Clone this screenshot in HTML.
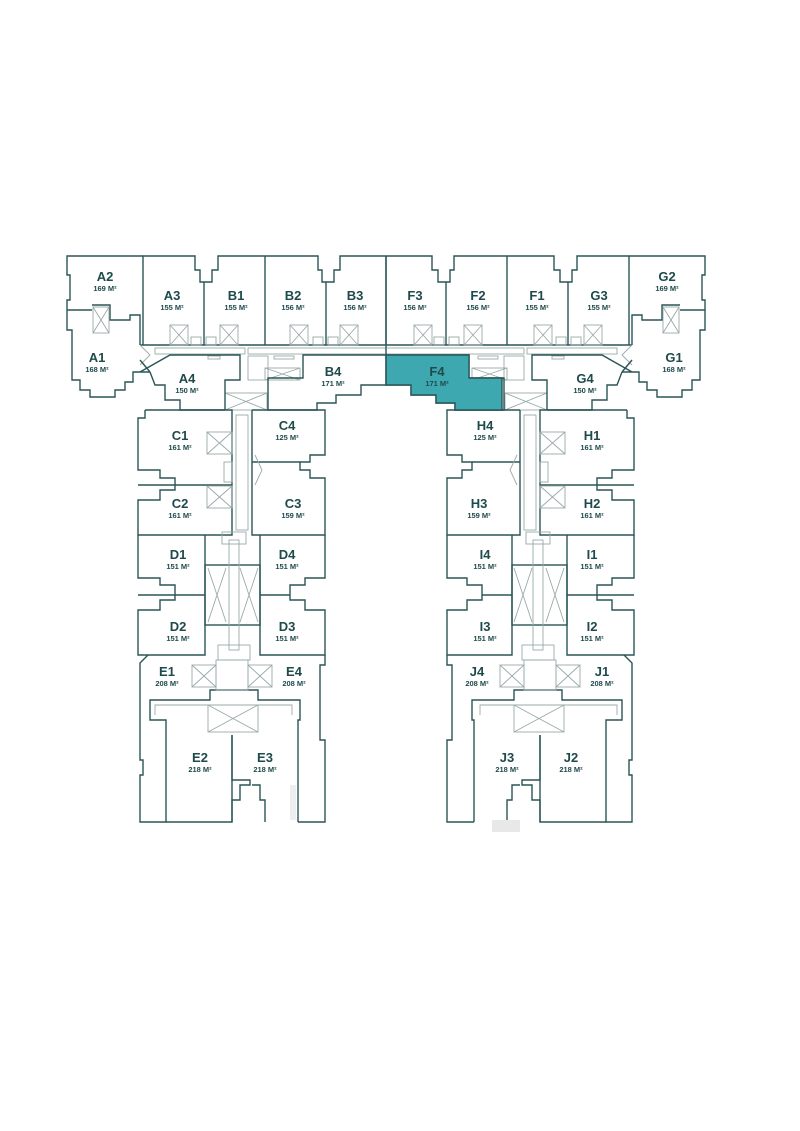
<!DOCTYPE html>
<html><head><meta charset="utf-8"><style>
html,body{margin:0;padding:0;background:#fff;width:800px;height:1131px;overflow:hidden}
svg{display:block}
text{font-family:"Liberation Sans",sans-serif;fill:#1f4a4c;text-anchor:middle;font-weight:bold}
.n{font-size:13px}.a{font-size:7.5px}
.l{fill:none;stroke:#2a5557;stroke-width:1.4;stroke-linejoin:miter}
.t{fill:none;stroke:#9aa9aa;stroke-width:0.9}
</style></head><body>
<svg width="800" height="1131" viewBox="0 0 800 1131">
<defs>
<g id="half">
<polyline class="l" points="143,345 143,256 195,256 195,270 200,270 200,282 212,282 212,270 218,270 218,256 318,256 318,270 322,270 322,282 334,282 334,270 340,270 340,256 386,256"/>
<polyline class="l" points="143,256 67,256 67,275 70,275 70,300 67,300 67,330 72,330 72,380 80,380 80,390 90,390 90,397 115,397 115,390 125,390 125,382 133,382 133,372 150,372"/>
<polyline class="l" points="67,310 92,310"/>
<polyline class="l" points="92,305 110,305 110,320 130,320 130,315 140,315 140,345"/>
<rect class="t" x="93" y="307" width="16" height="26"/><path class="t" d="M93,307 L109,333 M109,307 L93,333"/>
<line class="l" x1="204" y1="282" x2="204" y2="345"/>
<line class="l" x1="265" y1="256" x2="265" y2="345"/>
<line class="l" x1="326" y1="282" x2="326" y2="345"/>
<line class="l" x1="386" y1="256" x2="386" y2="345"/>
<line class="l" x1="140" y1="345" x2="386" y2="345"/>
<g class="t">
<rect x="170" y="325" width="18" height="20"/><path d="M170,325 L188,345 M188,325 L170,345"/>
<rect x="220" y="325" width="18" height="20"/><path d="M220,325 L238,345 M238,325 L220,345"/>
<rect x="290" y="325" width="18" height="20"/><path d="M290,325 L308,345 M308,325 L290,345"/>
<rect x="340" y="325" width="18" height="20"/><path d="M340,325 L358,345 M358,325 L340,345"/>
<rect x="191" y="337" width="10" height="8"/><rect x="206" y="337" width="10" height="8"/>
<rect x="313" y="337" width="10" height="8"/><rect x="328" y="337" width="10" height="8"/>
<rect x="155" y="348" width="90" height="6"/><rect x="248" y="348" width="138" height="6"/>
<rect x="208" y="356" width="12" height="3"/><rect x="274" y="356" width="20" height="3"/>
<rect x="248" y="356" width="20" height="24"/>
<rect x="265" y="368" width="35" height="12"/><path d="M265,368 L300,380 M300,368 L265,380"/>
<rect x="225" y="393" width="42" height="17"/><path d="M225,393 L267,410 M267,393 L225,410"/>
<path d="M140,345 L150,355 L140,365"/>
</g>
<polyline class="l" points="140,372 170,355 240,355 240,380 225,380 225,410"/>
<polyline class="l" points="150,372 155,385 165,385 165,400 180,400 180,410 225,410"/>
<line class="l" x1="140" y1="360" x2="150" y2="372"/>
<polyline class="l" points="386,355 303,355 303,378 268,378 268,410 317,410 317,403 336,403 336,395 361,395 361,385 386,385"/>
<polyline class="l" points="145,410 232,410 232,535 138,535 138,500 160,500 160,490 175,490 175,478 160,478 160,470 138,470 138,418 145,418 145,410"/>
<polyline class="l" points="138,485 232,485"/>
<polyline class="l" points="252,410 325,410 325,455 310,455 310,462 300,462 300,470 310,470 310,478 325,478 325,535 252,535 252,410"/>
<line class="l" x1="252" y1="462" x2="300" y2="462"/>
<g class="t">
<rect x="207" y="432" width="25" height="22"/><path d="M207,432 L232,454 M232,432 L207,454"/>
<rect x="207" y="486" width="25" height="22"/><path d="M207,486 L232,508 M232,486 L207,508"/>
<rect x="236" y="415" width="12" height="115"/><rect x="224" y="462" width="8" height="20"/>
<path d="M255,455 L262,470 L255,485"/>
</g>
<polyline class="l" points="138,535 138,578 160,578 160,585 175,585 175,600 160,600 160,610 138,610 138,655 205,655 205,535"/>
<line class="l" x1="138" y1="595" x2="205" y2="595"/>
<polyline class="l" points="260,535 260,655 325,655 325,610 305,610 305,600 290,600 290,585 305,585 305,578 325,578 325,535"/>
<line class="l" x1="260" y1="595" x2="290" y2="595"/>
<rect class="l" x="205" y="565" width="55" height="60"/>
<g class="t">
<rect x="229" y="540" width="10" height="110"/><rect x="222" y="532" width="24" height="12"/>
<path d="M208,568 L226,622 M226,568 L208,622 M240,568 L258,622 M258,568 L240,622"/>
<rect x="218" y="645" width="32" height="15"/>
</g>
<polyline class="l" points="148,655 140,663 140,760 143,760 143,775 140,775 140,822 166,822 166,720 150,720 150,700 210,700 210,690 258,690 258,700 300,700 300,720 298,720 298,822"/>
<polyline class="l" points="325,655 325,665 320,665 320,740 325,740 325,822 298,822"/>
<polyline class="l" points="166,822 232,822 232,800 240,800 240,785 250,785 250,780 232,780 232,735"/>
<line class="l" x1="232" y1="735" x2="232" y2="822"/>
<polyline class="l" points="252,785 260,785 260,800 265,800 265,822"/>
<g class="t">
<rect x="192" y="665" width="24" height="22"/><path d="M192,665 L216,687 M216,665 L192,687"/>
<rect x="248" y="665" width="24" height="22"/><path d="M248,665 L272,687 M272,665 L248,687"/>
<rect x="216" y="660" width="32" height="30"/>
<rect x="208" y="705" width="50" height="27"/><path d="M208,705 L258,732 M258,705 L208,732"/>
<polyline points="155,715 155,705 292,705 292,715"/>
</g>
</g>
</defs>
<use href="#half"/>
<g transform="translate(772,0) scale(-1,1)"><use href="#half"/></g>
<polygon points="386,355 469,355 469,378 502,378 502,410 455,410 455,403 436,403 436,395 411,395 411,385 386,385" fill="#3ea8b1" stroke="#2a5557" stroke-width="1.4"/>
<line class="l" x1="386" y1="345" x2="386" y2="385"/>

<g>
<text class="n" x="105" y="281">A2</text><text class="a" x="105" y="291">169 M²</text>
<text class="n" x="172" y="300">A3</text><text class="a" x="172" y="310">155 M²</text>
<text class="n" x="236" y="300">B1</text><text class="a" x="236" y="310">155 M²</text>
<text class="n" x="293" y="300">B2</text><text class="a" x="293" y="310">156 M²</text>
<text class="n" x="355" y="300">B3</text><text class="a" x="355" y="310">156 M²</text>
<text class="n" x="415" y="300">F3</text><text class="a" x="415" y="310">156 M²</text>
<text class="n" x="478" y="300">F2</text><text class="a" x="478" y="310">156 M²</text>
<text class="n" x="537" y="300">F1</text><text class="a" x="537" y="310">155 M²</text>
<text class="n" x="599" y="300">G3</text><text class="a" x="599" y="310">155 M²</text>
<text class="n" x="667" y="281">G2</text><text class="a" x="667" y="291">169 M²</text>
<text class="n" x="97" y="362">A1</text><text class="a" x="97" y="372">168 M²</text>
<text class="n" x="674" y="362">G1</text><text class="a" x="674" y="372">168 M²</text>
<text class="n" x="187" y="383">A4</text><text class="a" x="187" y="393">150 M²</text>
<text class="n" x="333" y="376">B4</text><text class="a" x="333" y="386">171 M²</text>
<text class="n" x="437" y="376">F4</text><text class="a" x="437" y="386">171 M²</text>
<text class="n" x="585" y="383">G4</text><text class="a" x="585" y="393">150 M²</text>
<text class="n" x="180" y="440">C1</text><text class="a" x="180" y="450">161 M²</text>
<text class="n" x="287" y="430">C4</text><text class="a" x="287" y="440">125 M²</text>
<text class="n" x="485" y="430">H4</text><text class="a" x="485" y="440">125 M²</text>
<text class="n" x="592" y="440">H1</text><text class="a" x="592" y="450">161 M²</text>
<text class="n" x="180" y="508">C2</text><text class="a" x="180" y="518">161 M²</text>
<text class="n" x="293" y="508">C3</text><text class="a" x="293" y="518">159 M²</text>
<text class="n" x="479" y="508">H3</text><text class="a" x="479" y="518">159 M²</text>
<text class="n" x="592" y="508">H2</text><text class="a" x="592" y="518">161 M²</text>
<text class="n" x="178" y="559">D1</text><text class="a" x="178" y="569">151 M²</text>
<text class="n" x="287" y="559">D4</text><text class="a" x="287" y="569">151 M²</text>
<text class="n" x="485" y="559">I4</text><text class="a" x="485" y="569">151 M²</text>
<text class="n" x="592" y="559">I1</text><text class="a" x="592" y="569">151 M²</text>
<text class="n" x="178" y="631">D2</text><text class="a" x="178" y="641">151 M²</text>
<text class="n" x="287" y="631">D3</text><text class="a" x="287" y="641">151 M²</text>
<text class="n" x="485" y="631">I3</text><text class="a" x="485" y="641">151 M²</text>
<text class="n" x="592" y="631">I2</text><text class="a" x="592" y="641">151 M²</text>
<text class="n" x="167" y="676">E1</text><text class="a" x="167" y="686">208 M²</text>
<text class="n" x="294" y="676">E4</text><text class="a" x="294" y="686">208 M²</text>
<text class="n" x="477" y="676">J4</text><text class="a" x="477" y="686">208 M²</text>
<text class="n" x="602" y="676">J1</text><text class="a" x="602" y="686">208 M²</text>
<text class="n" x="200" y="762">E2</text><text class="a" x="200" y="772">218 M²</text>
<text class="n" x="265" y="762">E3</text><text class="a" x="265" y="772">218 M²</text>
<text class="n" x="507" y="762">J3</text><text class="a" x="507" y="772">218 M²</text>
<text class="n" x="571" y="762">J2</text><text class="a" x="571" y="772">218 M²</text>
</g>
<rect x="290" y="785" width="6" height="35" fill="#eee"/>
<rect x="492" y="820" width="28" height="12" fill="#e8e8e8"/>
</svg>
</body></html>
